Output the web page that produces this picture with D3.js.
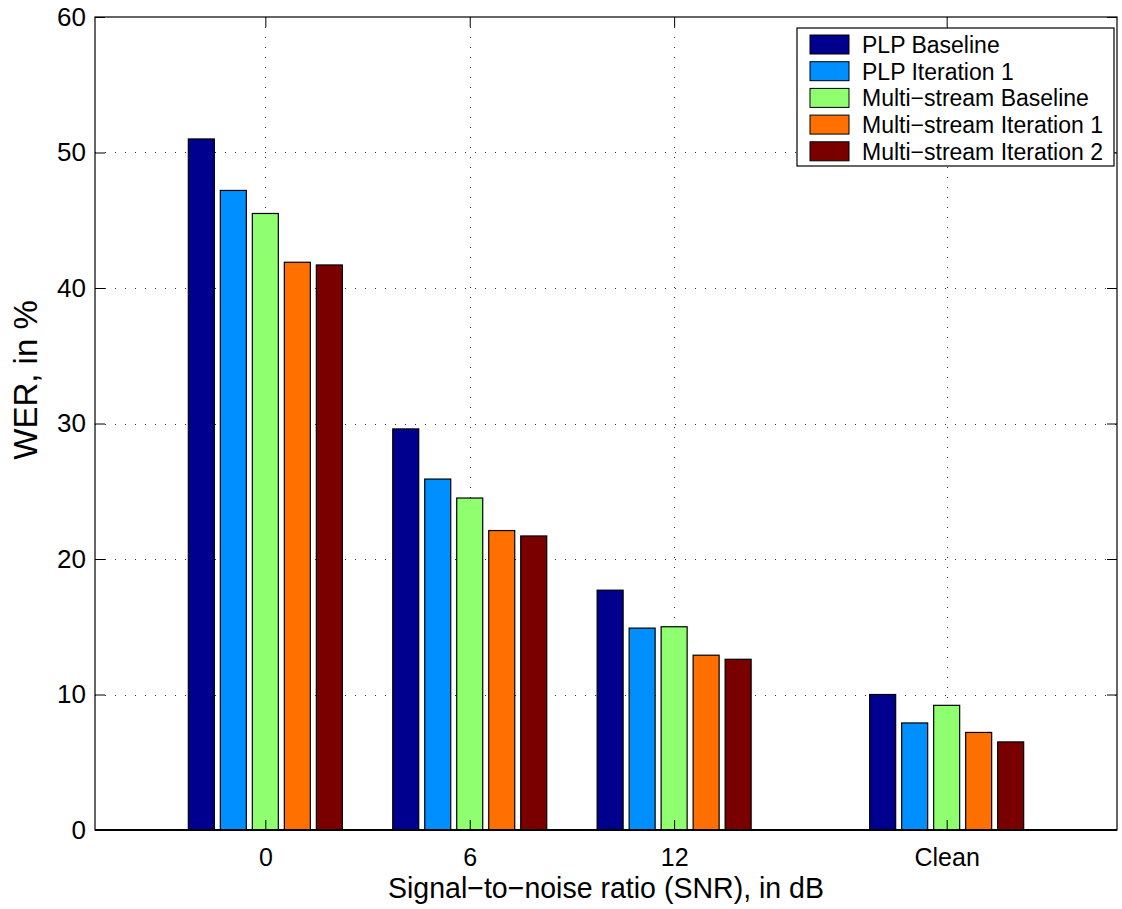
<!DOCTYPE html>
<html><head><meta charset="utf-8">
<script src="https://cdn.jsdelivr.net/npm/d3@7/dist/d3.min.js"></script>
<style>
body{margin:0;background:#fff;}
svg{display:block;font-family:"Liberation Sans",Arial,Helvetica,sans-serif;}
</style></head>
<body><svg id="c" width="1122" height="909"></svg>
<script>
// Data
const categories = ["0", "6", "12", "Clean"];
const categoryPositions = [0, 6, 12, 20];
const seriesNames = ["PLP Baseline", "PLP Iteration 1", "Multi\u2212stream Baseline", "Multi\u2212stream Iteration 1", "Multi\u2212stream Iteration 2"];
const plpBaseline = [51.0, 29.6, 17.7, 10.0];
const plpIteration1 = [47.2, 25.9, 14.9, 7.9];
const msBaseline = [45.5, 24.5, 15.0, 9.2];
const msIteration1 = [41.9, 22.1, 12.9, 7.2];
const msIteration2 = [41.7, 21.7, 12.6, 6.5];
const seriesValues = [plpBaseline, plpIteration1, msBaseline, msIteration1, msIteration2];
const colors = ["#00008f", "#008fff", "#8fff70", "#ff7000", "#7a0000"];
const yTicks = [0, 10, 20, 30, 40, 50, 60];

const svg = d3.select("#c");
const L = 95, R = 1117, T = 17, B = 830;
const x = d3.scaleLinear().domain([-5, 25]).range([L, R]);
const y = d3.scaleLinear().domain([0, 60]).range([B, T]);
const groupHalf = 80; // px half-width of a group
const inner = d3.scaleBand().domain(d3.range(seriesNames.length)).range([-groupHalf, groupHalf]).paddingInner(0.1875).paddingOuter(0.09375);

// grid
const grid = svg.append("g").attr("stroke", "#333").attr("stroke-width", 1).attr("stroke-dasharray", "1,9");
categoryPositions.forEach(p => {
  grid.append("line").attr("x1", Math.round(x(p)) + 0.5).attr("x2", Math.round(x(p)) + 0.5).attr("y1", T).attr("y2", B);
});
yTicks.slice(1, -1).forEach(v => {
  grid.append("line").attr("x1", L).attr("x2", R).attr("y1", Math.round(y(v)) + 0.5).attr("y2", Math.round(y(v)) + 0.5);
});

// bars
seriesValues.forEach((vals, i) => {
  svg.append("g").selectAll("rect").data(vals).join("rect")
    .attr("x", (d, j) => x(categoryPositions[j]) + inner(i))
    .attr("width", inner.bandwidth())
    .attr("y", d => y(d))
    .attr("height", d => y(0) - y(d))
    .attr("fill", colors[i])
    .attr("stroke", "#000").attr("stroke-width", 1.2);
});

// axes box
svg.append("rect").attr("x", L).attr("y", T).attr("width", R - L).attr("height", B - T)
  .attr("fill", "none").attr("stroke", "#000").attr("stroke-width", 1.2);
svg.append("line").attr("x1", L).attr("x2", R).attr("y1", B).attr("y2", B).attr("stroke", "#000").attr("stroke-width", 2);

// ticks (inside) via d3 axes
const tickLen = 10;
const yAxisL = d3.axisLeft(y).tickValues(yTicks).tickSize(-tickLen).tickPadding(9).tickFormat(d3.format("d"));
const gy = svg.append("g").attr("transform", `translate(${L},0)`).call(yAxisL);
gy.select(".domain").remove();
gy.selectAll("text").attr("font-size", 26).attr("fill", "#000").attr("font-family", "Liberation Sans, Arial, sans-serif");
const gyr = svg.append("g").attr("transform", `translate(${R},0)`).call(d3.axisRight(y).tickValues(yTicks).tickSize(-tickLen).tickFormat(""));
gyr.select(".domain").remove();

const xAxisB = d3.axisBottom(x).tickValues(categoryPositions).tickSize(-tickLen).tickPadding(18)
  .tickFormat((d, i) => categories[i]);
const gx = svg.append("g").attr("transform", `translate(0,${B})`).call(xAxisB);
gx.select(".domain").remove();
gx.selectAll("text").attr("font-size", 25).attr("fill", "#000").attr("font-family", "Liberation Sans, Arial, sans-serif");
const gxt = svg.append("g").attr("transform", `translate(0,${T})`).call(d3.axisTop(x).tickValues(categoryPositions).tickSize(-tickLen).tickFormat(""));
gxt.select(".domain").remove();

// axis titles
svg.append("text").attr("x", (L + R) / 2).attr("y", 898).attr("text-anchor", "middle")
  .attr("font-size", 29).attr("textLength", 436).attr("lengthAdjust", "spacingAndGlyphs")
  .text("Signal\u2212to\u2212noise ratio (SNR), in dB");
svg.append("text").attr("transform", `translate(37,380) rotate(-90)`).attr("text-anchor", "middle")
  .attr("font-size", 33).text("WER, in %");

// legend
const lg = svg.append("g").attr("transform", "translate(797,28)");
lg.append("rect").attr("x", 0).attr("y", 0).attr("width", 317).attr("height", 138).attr("fill", "#fff").attr("stroke", "#000").attr("stroke-width", 1.2);
seriesNames.forEach((n, i) => {
  const yy = 7 + i * 26.7;
  lg.append("rect").attr("x", 13).attr("y", yy).attr("width", 39).attr("height", 19).attr("fill", colors[i]).attr("stroke", "#000").attr("stroke-width", 1);
  lg.append("text").attr("x", 65).attr("y", yy + 18).attr("font-size", 23).text(n);
});
</script></body></html>
